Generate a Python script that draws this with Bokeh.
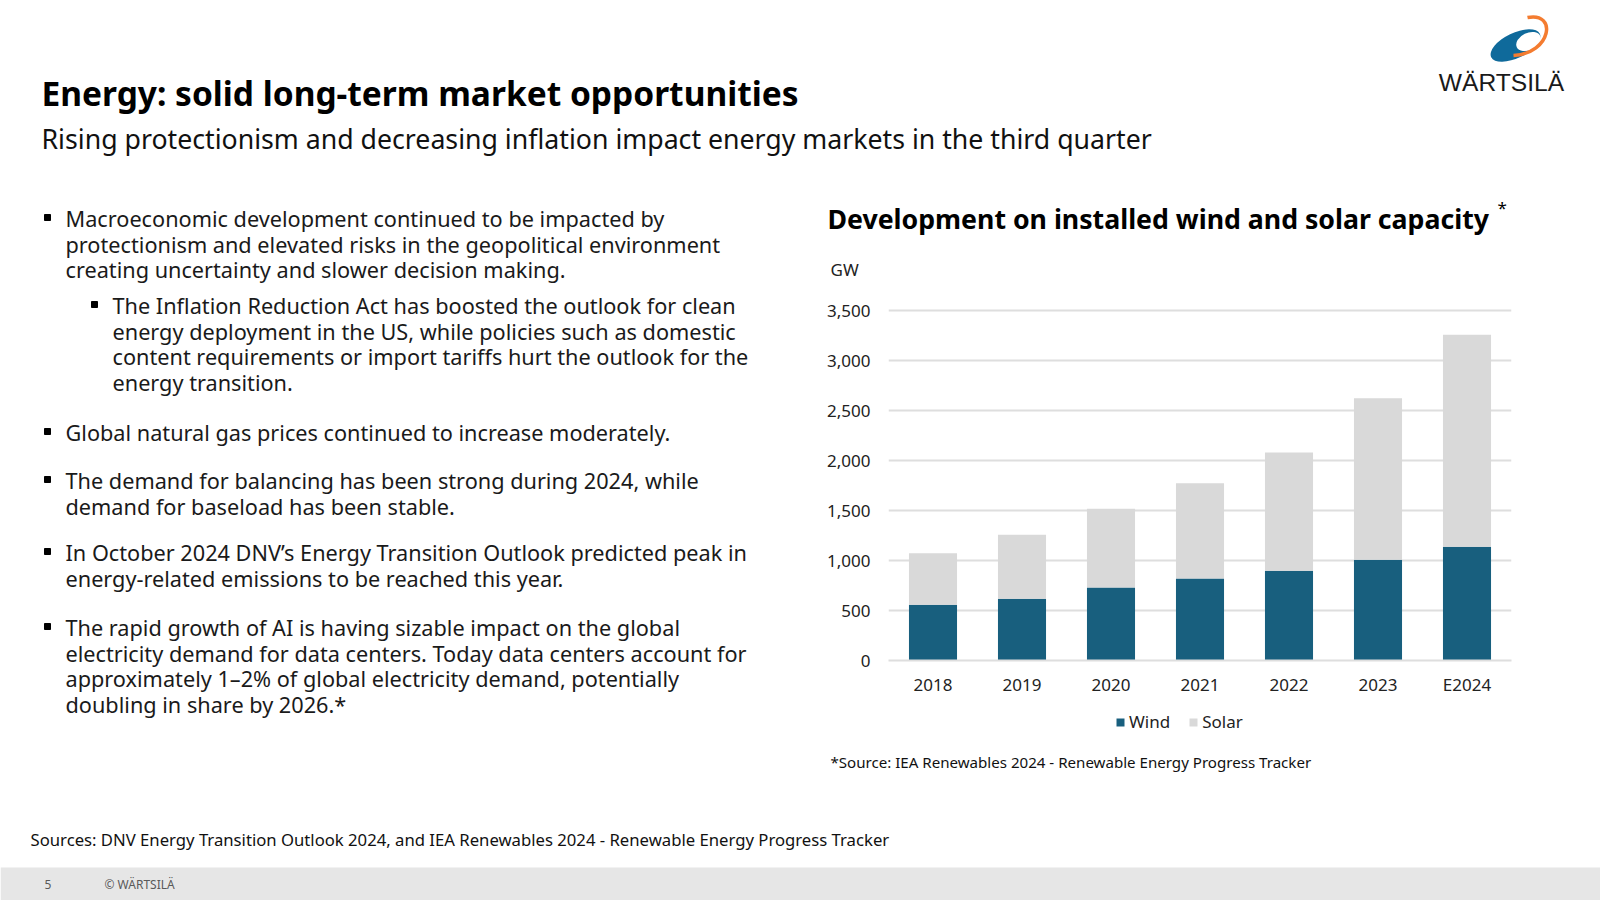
from bokeh.plotting import figure
from bokeh.models import Range1d, FactorRange, ColumnDataSource, FixedTicker, NumeralTickFormatter, Legend, LegendItem
from bokeh.layouts import column, row
from bokeh.core.properties import value
from bokeh.embed import file_html
from bokeh.resources import INLINE

# ---------------- data ----------------
years = ["2018", "2019", "2020", "2021", "2022", "2023", "E2024"]
wind = [557, 617, 730, 820, 897, 1007, 1137]
solar = [516, 640, 787, 953, 1183, 1616, 2120]
y_ticks = [0, 500, 1000, 1500, 2000, 2500, 3000, 3500]
series_names = ["Wind", "Solar"]

title_text = "Energy: solid long-term market opportunities"
subtitle_text = "Rising protectionism and decreasing inflation impact energy markets in the third quarter"
chart_title = "Development on installed wind and solar capacity"
unit_label = "GW"
chart_note = "*Source: IEA Renewables 2024 - Renewable Energy Progress Tracker"
sources_text = "Sources: DNV Energy Transition Outlook 2024, and IEA Renewables 2024 - Renewable Energy Progress Tracker"
page_number = "5"
copyright_text = "© WÄRTSILÄ"
logo_text = "WÄRTSILÄ"

bullet_1 = ["Macroeconomic development continued to be impacted by",
            "protectionism and elevated risks in the geopolitical environment",
            "creating uncertainty and slower decision making."]
sub_bullet_1 = ["The Inflation Reduction Act has boosted the outlook for clean",
                "energy deployment in the US, while policies such as domestic",
                "content requirements or import tariffs hurt the outlook for the",
                "energy transition."]
bullet_2 = ["Global natural gas prices continued to increase moderately."]
bullet_3 = ["The demand for balancing has been strong during 2024, while",
            "demand for baseload has been stable."]
bullet_4 = ["In October 2024 DNV\u2019s Energy Transition Outlook predicted peak in",
            "energy-related emissions to be reached this year."]
bullet_5 = ["The rapid growth of AI is having sizable impact on the global",
            "electricity demand for data centers. Today data centers account for",
            "approximately 1\u20132% of global electricity demand, potentially",
            "doubling in share by 2026.*"]

# ---------------- styles ----------------
FONT = "Noto Sans"
WIND_C = "#185f7e"
SOLAR_C = "#d9d9d9"
GRID_C = "#dedede"
TXT_C = "#1a1a1a"
NAN = float("nan")


def blank(w, h, ox, oy):
    f = figure(width=w, height=h, x_range=Range1d(ox, ox + w), y_range=Range1d(oy + h, oy),
               output_backend="svg", toolbar_location=None, min_border=0,
               x_axis_location=None, y_axis_location=None, frame_align=False,
               outline_line_color=None, background_fill_color="white", border_fill_color="white")
    f.grid.visible = False
    return f


def txt(f, x, y, s, size, bold=False, color=TXT_C, font=FONT, align="left"):
    f.text(x=[x], y=[y], text=[s], text_font=value(font), text_font_size=value(size),
           text_font_style="bold" if bold else "normal", text_color=color,
           text_baseline="middle", text_align=align)


# ---------------- top band ----------------
top = blank(1600, 190, 0, 0)
txt(top, 41, 92, title_text, "33.5px", bold=True, color="#000000")
txt(top, 41, 138, subtitle_text, "26.7px", color="#111111")
# logo
top.ellipse(x=[1515], y=[45], width=[54], height=[25], angle=0.45, fill_color="#0f6a9b", line_color=None)
top.ellipse(x=[1528], y=[41], width=[26], height=[17], angle=0.45, fill_color="white", line_color=None)
top.bezier(x0=[1527], y0=[17], x1=[1513], y1=[55], cx0=[1557], cy0=[11], cx1=[1551], cy1=[53],
           line_color="#f47c30", line_width=3.5)
txt(top, 1501, 82, logo_text, "24.6px", color="#1a1a1a", font="Liberation Sans", align="center")

# ---------------- left bullets ----------------
left = blank(800, 610, 0, 190)
line_gap = 25.7
blocks = [(bullet_1, 0, 218), (sub_bullet_1, 1, 305), (bullet_2, 0, 432),
          (bullet_3, 0, 480), (bullet_4, 0, 552), (bullet_5, 0, 627)]
for lines, lvl, y0 in blocks:
    tx = 65 if lvl == 0 else 112
    mx = 47 if lvl == 0 else 94
    left.scatter(x=[mx], y=[y0 - 1], marker="square", size=6, color="#000000")
    for i, s in enumerate(lines):
        txt(left, tx, y0 + i * line_gap, s, "21.7px")

# ---------------- chart title ----------------
ctop = blank(800, 90, 800, 190)
txt(ctop, 827, 218, chart_title, "26.7px", bold=True, color="#000000")
txt(ctop, 1497, 207, "*", "17px", color="#000000")
txt(ctop, 830, 269, unit_label, "17px", color="#222222")

# ---------------- chart ----------------
src = ColumnDataSource(data=dict(year=years, Wind=wind, Solar=solar))
p = figure(width=800, height=422, x_range=FactorRange(*years), y_range=Range1d(0, 3600),
           output_backend="svg", toolbar_location=None, frame_align=False,
           min_border_left=88, min_border_right=89, min_border_top=20, min_border_bottom=42,
           outline_line_color=None, background_fill_color="white", border_fill_color="white")
rs = p.vbar_stack(series_names, x="year", width=0.54, color=[WIND_C, SOLAR_C], line_color=None, source=src)
p.yaxis.ticker = FixedTicker(ticks=y_ticks)
p.yaxis.formatter = NumeralTickFormatter(format="0,0")
p.yaxis.axis_line_color = None
p.yaxis.major_tick_line_color = None
p.yaxis.minor_tick_line_color = None
p.yaxis.major_tick_out = 0
p.yaxis.major_tick_in = 0
p.yaxis.major_label_standoff = 18
p.xaxis.axis_line_color = GRID_C
p.xaxis.axis_line_width = 2
p.xaxis.major_tick_line_color = None
p.xaxis.minor_tick_line_color = None
p.xaxis.major_tick_out = 0
p.xaxis.major_tick_in = 0
p.xaxis.major_label_standoff = 12
for ax in (p.xaxis, p.yaxis):
    ax.major_label_text_font = FONT
    ax.major_label_text_font_size = "17px"
    ax.major_label_text_color = "#222222"
p.xgrid.grid_line_color = None
p.ygrid.grid_line_color = GRID_C
p.ygrid.grid_line_width = 2
p.ygrid.ticker = FixedTicker(ticks=y_ticks)

# ---------------- legend + chart note ----------------
cbot = blank(800, 98, 800, 702)
key_w = cbot.vbar(x=[NAN], top=[NAN], width=1, fill_color=WIND_C, line_color=None)
key_s = cbot.vbar(x=[NAN], top=[NAN], width=1, fill_color=SOLAR_C, line_color=None)
legend = Legend(items=[LegendItem(label=series_names[0], renderers=[key_w]),
                       LegendItem(label=series_names[1], renderers=[key_s])],
                orientation="horizontal", location=(315, 67),
                border_line_color=None, background_fill_alpha=0,
                label_text_font=FONT, label_text_font_size="17px", label_text_color="#222222",
                glyph_width=10, glyph_height=10, label_standoff=4, spacing=18,
                label_height=20, padding=0, margin=0)
cbot.add_layout(legend, "center")
txt(cbot, 830, 761, chart_note, "15.1px", color="#111111")

# ---------------- bottom ----------------
bottom = blank(1600, 100, 0, 800)
txt(bottom, 30, 839, sources_text, "16.7px", color="#111111")
bottom.quad(left=[0], right=[1600], top=[867], bottom=[900], fill_color="#e6e6e6", line_color=None)
txt(bottom, 44, 884, page_number, "12px", color="#595959")
txt(bottom, 104, 884, copyright_text, "12px", color="#595959")

layout = column(top, row(left, column(ctop, p, cbot)), bottom)

open("out.html", "w").write(file_html(layout, INLINE))
